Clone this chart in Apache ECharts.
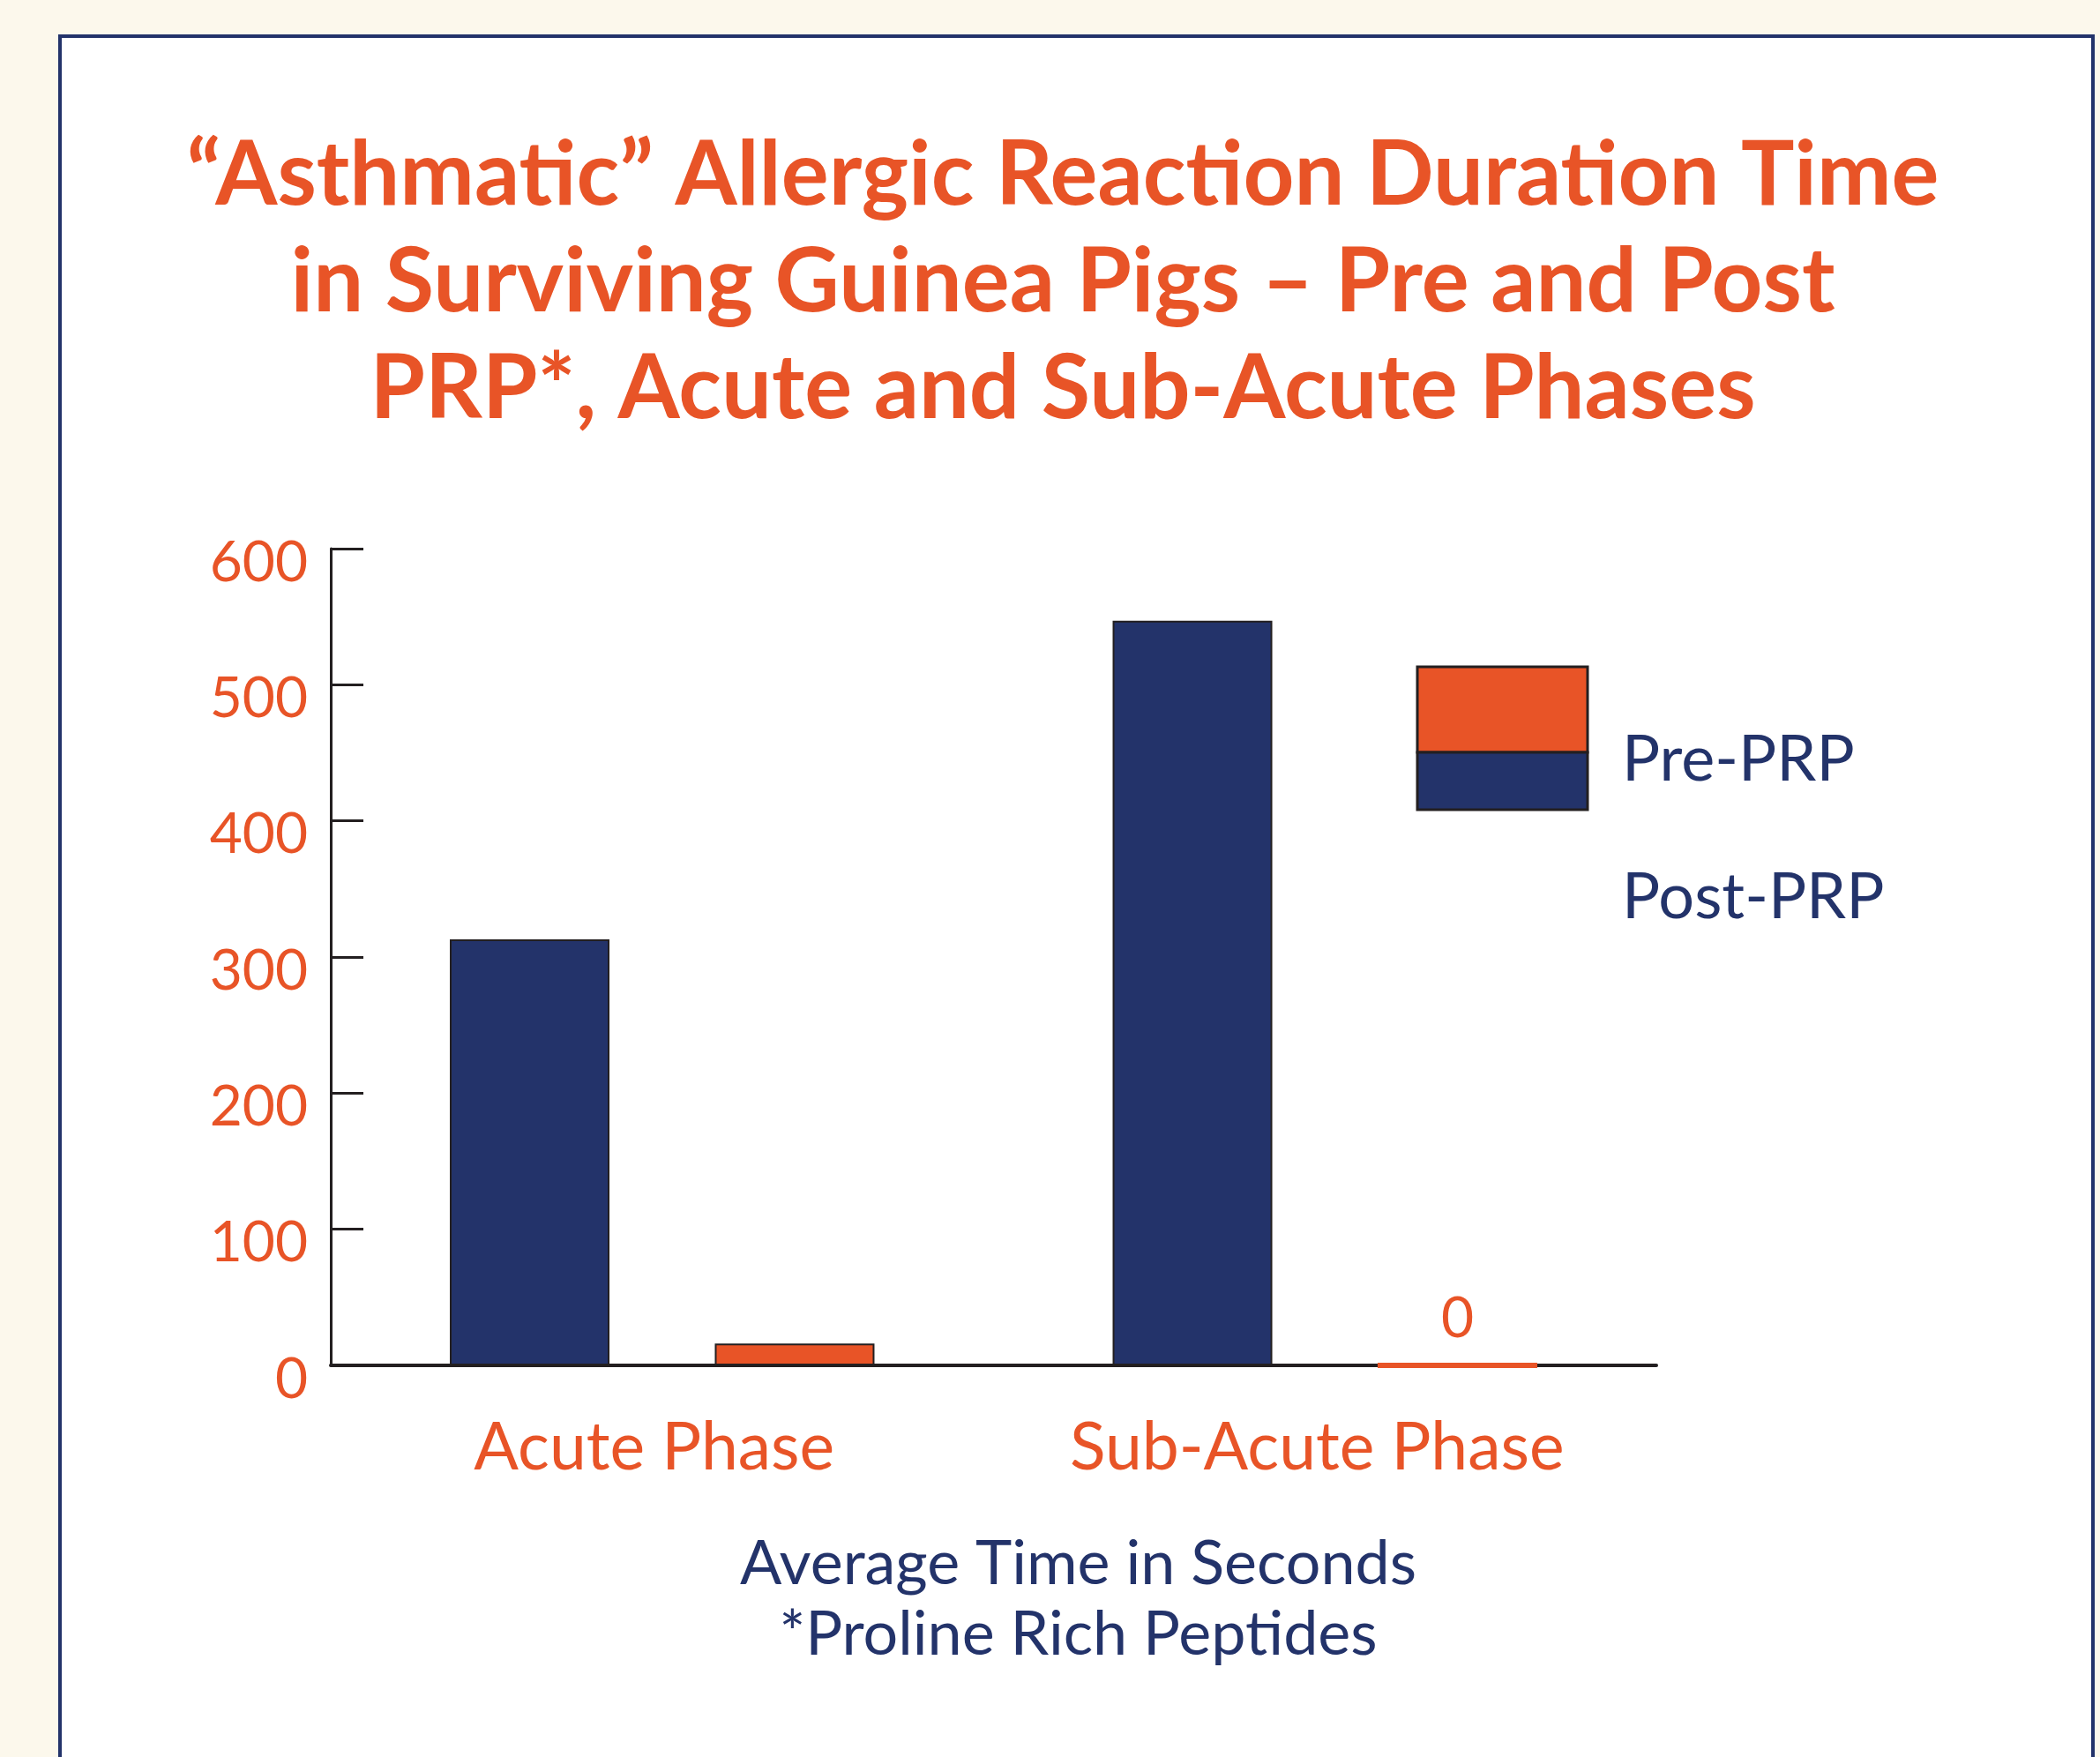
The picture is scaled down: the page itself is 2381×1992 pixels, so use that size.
<!DOCTYPE html>
<html>
<head>
<meta charset="utf-8">
<title>Asthmatic Allergic Reaction Duration Time</title>
<script src="https://cdn.jsdelivr.net/npm/echarts@6/dist/echarts.min.js"></script>
<style>
html,body{margin:0;padding:0;background:#fcf8ec;}
#chartmain{width:2381px;height:1992px;}
</style>
</head>
<body>
<div id="chartmain"></div>
<script>
var categories = ['Acute Phase', 'Sub-Acute Phase'];
var prePRP = [313, 547];
var postPRP = [16, 0];
var yTicks = [0, 100, 200, 300, 400, 500, 600];
var legendNames = ['Pre-PRP', 'Post-PRP'];

var ORANGE = '#e85427';
var NAVY = '#23336a';
var INK = '#231f20';
var FONT = 'Lato';

var myChart = echarts.init(document.getElementById('chartmain'));

// zero value is drawn as a flat orange line with its value on top
var postData = postPRP.map(function(v) {
    if (v === 0) {
        return {value: v, itemStyle: {borderColor: ORANGE, borderWidth: 6}, label: {show: true}};
    }
    return v;
});

var options = {
    backgroundColor: '#fcf8ec',
    title: {
        text: '\u201cAsthmatic\u201d Allergic Reaction Duration Time\nin Surviving Guinea Pigs \u2013 Pre and Post\nPRP*, Acute and Sub-Acute Phases',
        left: 1200,
        top: 134,
        textAlign: 'center',
        textStyle: {fontFamily: FONT, fontWeight: 'bold', fontSize: 101, lineHeight: 121, color: ORANGE}
    },
    legend: {show: false},
    grid: {left: 375, top: 622, width: 1503, height: 926},
    xAxis: {
        type: 'category',
        data: categories,
        axisLine: {lineStyle: {color: INK, width: 4}},
        axisTick: {inside: true, length: 23, lineStyle: {color: INK, width: 3}},
        axisLabel: {
            interval: 0,
            hideOverlap: false,
            fontFamily: FONT, fontSize: 75, color: ORANGE, margin: 56,
            formatter: '{a|{value}}',
            rich: {a: {fontFamily: FONT, fontSize: 75, color: ORANGE, padding: [0, 18, 0, 0]}}
        },
        name: 'Average Time in Seconds\n*Proline Rich Peptides',
        nameLocation: 'middle',
        nameGap: 185,
        nameTextStyle: {fontFamily: FONT, fontSize: 70, lineHeight: 80, color: NAVY, padding: [0, 0, 0, 192]}
    },
    yAxis: {
        type: 'value',
        min: yTicks[0],
        max: yTicks[yTicks.length - 1],
        interval: yTicks[1] - yTicks[0],
        axisLine: {show: true, lineStyle: {color: INK, width: 3}},
        axisTick: {show: true, inside: true, length: 37, lineStyle: {color: INK, width: 3}},
        splitLine: {show: false},
        // labels sit a little below their ticks
        axisLabel: {fontFamily: FONT, fontSize: 64, color: ORANGE, margin: 26, verticalAlign: 'top', lineHeight: 32}
    },
    series: [{
        name: legendNames[0],
        type: 'bar',
        data: prePRP,
        barWidth: 181,
        barGap: '66%',
        itemStyle: {color: NAVY, borderColor: INK, borderWidth: 2}
    }, {
        name: legendNames[1],
        type: 'bar',
        data: postData,
        barWidth: 181,
        itemStyle: {color: ORANGE, borderColor: INK, borderWidth: 2},
        label: {show: false, position: 'top', distance: 18, fontFamily: FONT, fontSize: 64, color: ORANGE}
    }],
    graphic: [{
        type: 'rect',
        z: -100,
        shape: {x: 68, y: 41, width: 2305, height: 2100},
        style: {fill: '#ffffff', stroke: NAVY, lineWidth: 4}
    }, {
        type: 'rect',
        shape: {x: 1607, y: 756, width: 193, height: 97},
        style: {fill: ORANGE, stroke: INK, lineWidth: 3}
    }, {
        type: 'rect',
        shape: {x: 1607, y: 853, width: 193, height: 65},
        style: {fill: NAVY, stroke: INK, lineWidth: 3}
    }, {
        type: 'text',
        left: 1839,
        top: 826,
        style: {text: legendNames[0], fontFamily: FONT, fontSize: 72, fill: NAVY}
    }, {
        type: 'text',
        left: 1839,
        top: 982,
        style: {text: legendNames[1], fontFamily: FONT, fontSize: 72, fill: NAVY}
    }]
};
myChart.setOption(options);
</script>
</body>
</html>
